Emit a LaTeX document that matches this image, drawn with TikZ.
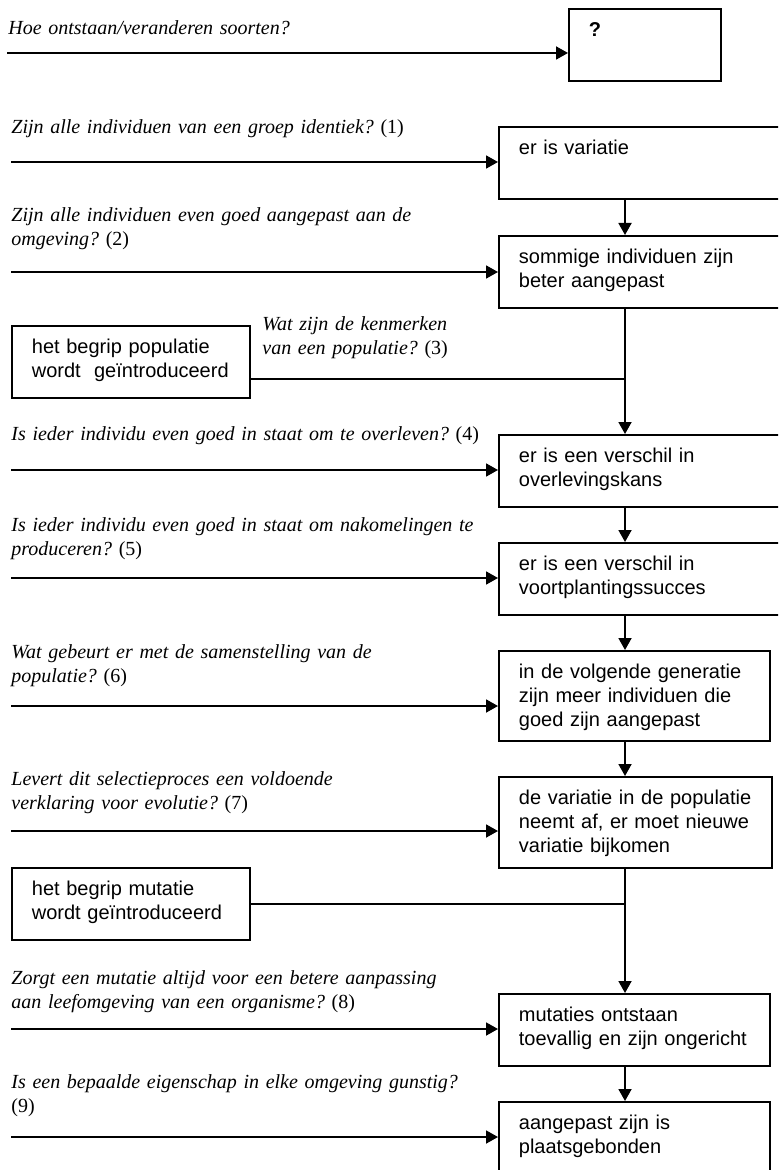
\documentclass[tikz,border=0pt]{standalone}
\usepackage{fontspec}
\setmainfont{Liberation Serif}
\setsansfont{Liberation Sans}
\usetikzlibrary{positioning,arrows.meta,calc}
\frenchspacing

\begin{document}
\begin{tikzpicture}[x=0.5pt,y=-0.5pt,
	stepbox/.style={draw,line width=0.9pt,anchor=north west,inner xsep=10pt,inner ysep=0pt,
		text height=14pt,text depth=22pt,align=left,font=\sffamily\fontsize{10}{12}\selectfont},
	question/.style={anchor=base west,inner sep=0pt,text width=260pt,align=left,
		font=\itshape\fontsize{10}{12}\selectfont},
	flow/.style={line width=0.9pt,-{Triangle[length=6pt,width=6.5pt]}},
	link/.style={line width=0.9pt}]
			\useasboundingbox (0,0) rectangle (778,1170);
			\clip (0,0) rectangle (778,1170);
			\node [stepbox,text width=56pt] (start) at (568,8) {\textbf{?}};
			\node [stepbox,text width=130pt] (var) at (498,126) {er is variatie};
			\node [stepbox,text width=130pt] (fit) at (498,235) {sommige individuen zijn\\beter aangepast};
			\node [stepbox,text width=99pt] (pop) at (11,325) {het begrip populatie\\\mbox{wordt\ \ geïntroduceerd}};
			\node [stepbox,text width=130pt] (surv) at (498,434) {er is een verschil in\\overlevingskans};
			\node [stepbox,text width=130pt] (repr) at (498,542) {er is een verschil in\\voortplantingssucces};
			\node [stepbox,text width=115.5pt,text depth=31pt] (gen) at (498,650) {in de volgende generatie\\zijn meer individuen die\\goed zijn aangepast};
			\node [stepbox,text width=116.5pt,text depth=31.5pt] (less) at (498,776) {de variatie in de populatie\\neemt af, er moet nieuwe\\variatie bijkomen};
			\node [stepbox,text width=99pt] (mut) at (11,867) {het begrip mutatie\\wordt geïntroduceerd};
			\node [stepbox,text width=115.5pt] (rand) at (498,993) {mutaties ontstaan\\toevallig en zijn ongericht};
			\node [stepbox,text width=115.5pt,text depth=26pt] (place) at (498,1101) {aangepast zijn is\\plaatsgebonden};
			\node [question] (q0) at (8,35) {Hoe ontstaan/veranderen soorten?};
			\node [question] (q1) at (11,134) {Zijn alle individuen van een groep identiek? \textup{(1)}};
			\node [question] (q2) at (11,222) {Zijn alle individuen even goed aangepast aan de\\omgeving? \textup{(2)}};
			\node [question,text width=160pt] (q3) at (262,331) {Wat zijn de kenmerken\\van een populatie? \textup{(3)}};
			\node [question] (q4) at (11,440) {Is ieder individu even goed in staat om te overleven? \textup{(4)}};
			\node [question] (q5) at (11,531) {Is ieder individu even goed in staat om nakomelingen te\\produceren? \textup{(5)}};
			\node [question] (q6) at (11,658) {Wat gebeurt er met de samenstelling van de\\populatie? \textup{(6)}};
			\node [question] (q7) at (11,785) {Levert dit selectieproces een voldoende\\verklaring voor evolutie? \textup{(7)}};
			\node [question] (q8) at (11,984) {Zorgt een mutatie altijd voor een betere aanpassing\\aan leefomgeving van een organisme? \textup{(8)}};
			\node [question] (q9) at (11,1088) {Is een bepaalde eigenschap in elke omgeving gunstig?\\\textup{(9)}};
			\coordinate (in0) at (7,53);
			\coordinate (in1) at (11,162);
			\coordinate (in2) at (11,272);
			\coordinate (in4) at (11,470);
			\coordinate (in5) at (11,578);
			\coordinate (in6) at (11,706);
			\coordinate (in7) at (11,831);
			\coordinate (in8) at (11,1029);
			\coordinate (in9) at (11,1137);
			\draw [flow] (in0) -- (in0 -| start.west);
			\draw [flow] (in1) -- (in1 -| var.west);
			\draw [flow] (in2) -- (in2 -| fit.west);
			\draw [flow] (in4) -- (in4 -| surv.west);
			\draw [flow] (in5) -- (in5 -| repr.west);
			\draw [flow] (in6) -- (in6 -| gen.west);
			\draw [flow] (in7) -- (in7 -| less.west);
			\draw [flow] (in8) -- (in8 -| rand.west);
			\draw [flow] (in9) -- (in9 -| place.west);
			\coordinate (spine) at (625,0);
			\coordinate (popjoin) at (625,379);
			\coordinate (mutjoin) at (mut.east -| spine);
			\draw [flow] (var.south -| spine) -- (fit.north -| spine);
			\draw [link] (fit.south -| spine) -- (popjoin);
			\draw [link] (pop.east |- popjoin) -- (popjoin);
			\draw [flow] (popjoin) -- (surv.north -| spine);
			\draw [flow] (surv.south -| spine) -- (repr.north -| spine);
			\draw [flow] (repr.south -| spine) -- (gen.north -| spine);
			\draw [flow] (gen.south -| spine) -- (less.north -| spine);
			\draw [link] (less.south -| spine) -- (mutjoin);
			\draw [link] (mut.east) -- (mutjoin);
			\draw [flow] (mutjoin) -- (rand.north -| spine);
			\draw [flow] (rand.south -| spine) -- (place.north -| spine);
		\end{tikzpicture}
\end{document}
